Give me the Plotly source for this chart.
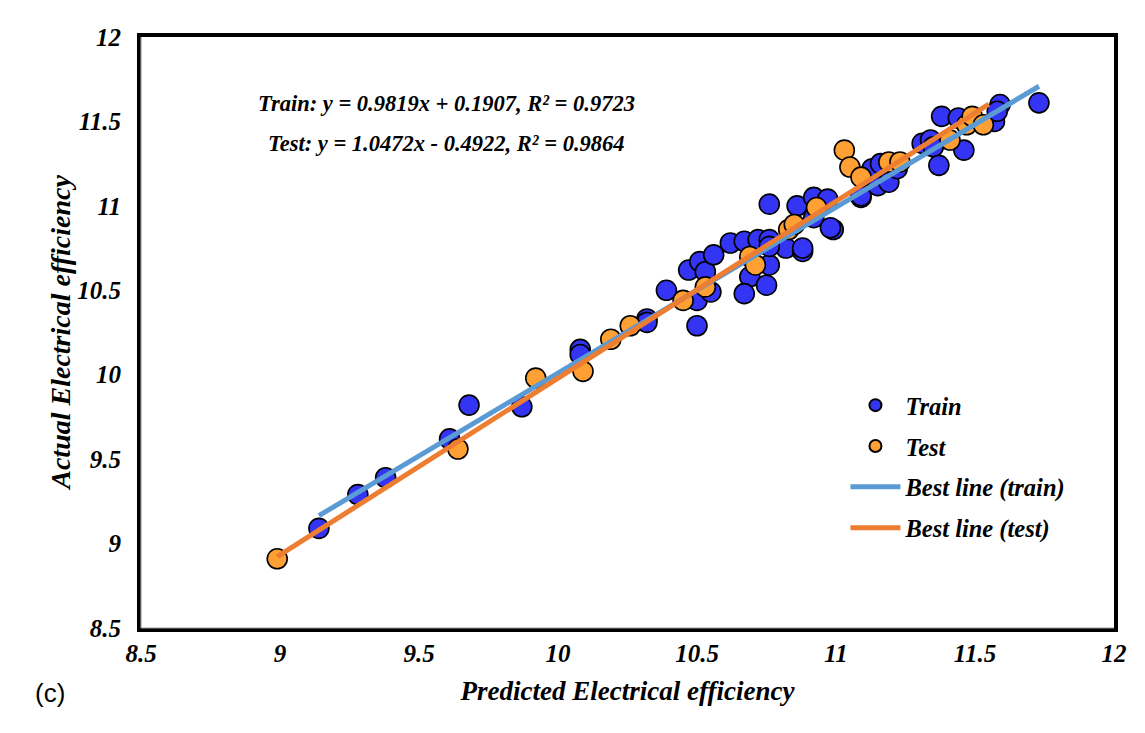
import plotly.graph_objects as go
import numpy as np

train_x = [9.14, 9.28, 9.38, 9.61, 9.68, 9.87, 10.08, 10.08, 10.32, 10.39, 10.32,
           10.50, 10.50, 10.47, 10.51, 10.53, 10.55, 10.56, 10.62, 10.67, 10.72, 10.76,
           10.76, 10.76, 10.69, 10.67, 10.75, 10.82, 10.88, 10.86, 10.92, 10.97, 10.99,
           10.92, 11.09, 11.09, 11.15, 11.19, 11.13, 11.16, 11.22, 11.31, 11.34, 11.35,
           11.37, 11.38, 11.44, 11.46, 11.57, 11.59, 11.58, 11.73, 10.76, 10.88, 10.98]
train_y = [9.09, 9.29, 9.39, 9.62, 9.82, 9.81, 10.15, 10.12, 10.33, 10.50, 10.31,
           10.44, 10.29, 10.62, 10.67, 10.61, 10.49, 10.71, 10.78, 10.79, 10.80, 10.80,
           11.01, 10.65, 10.58, 10.48, 10.53, 10.75, 10.73, 11.00, 11.05, 11.04, 10.86,
           10.93, 11.05, 11.06, 11.12, 11.14, 11.22, 11.25, 11.22, 11.37, 11.39, 11.35,
           11.24, 11.53, 11.52, 11.33, 11.50, 11.60, 11.56, 11.61, 10.76, 10.75, 10.87]
test_x = [8.99, 9.64, 9.92, 10.09, 10.19, 10.26, 10.45, 10.53, 10.69, 10.71, 10.83,
          10.85, 10.93, 11.03, 11.05, 11.09, 11.19, 11.23, 11.41, 11.47, 11.49, 11.53]
test_y = [8.91, 9.56, 9.98, 10.02, 10.21, 10.29, 10.44, 10.52, 10.70, 10.65, 10.86,
          10.89, 10.99, 11.33, 11.23, 11.17, 11.26, 11.26, 11.39, 11.48, 11.53, 11.48]

train_coef = (0.9819, 0.1907)
test_coef = (1.0472, -0.4922)
tick_vals = [8.5, 9, 9.5, 10, 10.5, 11, 11.5, 12]
tick_text = ["8.5", "9", "9.5", "10", "10.5", "11", "11.5", "12"]

FONT = "Liberation Serif"
bi = dict(family=FONT, color="black", weight="bold", style="italic")

fig = go.Figure()
fig.add_trace(go.Scatter(x=train_x, y=train_y, mode="markers", name="Train",
                         legendgroup="a",
                         marker=dict(size=20, color="#3434F5",
                                     line=dict(color="black", width=1.6))))
fig.add_trace(go.Scatter(x=test_x, y=test_y, mode="markers", name="Test",
                         legendgroup="b",
                         marker=dict(size=20, color="#FFA035",
                                     line=dict(color="black", width=1.6))))
lx = np.array([min(train_x), max(train_x)])
fig.add_trace(go.Scatter(x=lx, y=train_coef[0] * lx + train_coef[1], mode="lines",
                         name="Best line (train)", legendgroup="c",
                         line=dict(color="#5B9BD5", width=5)))
tx = np.array([min(test_x), max(test_x) + 0.02])
fig.add_trace(go.Scatter(x=tx, y=test_coef[0] * tx + test_coef[1], mode="lines",
                         name="Best line (test)", legendgroup="d",
                         line=dict(color="#ED7D31", width=5)))

axis_common = dict(range=[8.5, 12], tickvals=tick_vals, ticktext=tick_text,
                   showgrid=False, zeroline=False, showline=True, mirror=True,
                   linecolor="black", linewidth=4, ticks="",
                   tickfont=dict(size=25, **bi))

fig.update_xaxes(**axis_common, ticklabelstandoff=0,
                 title=dict(text="Predicted Electrical efficiency",
                            font=dict(size=27, **bi), standoff=16))
fig.update_yaxes(**axis_common, ticklabelstandoff=11)

fig.add_annotation(xref="paper", yref="paper", x=-0.083, y=0.5,
                   text="Actual Electrical efficiency", textangle=-90,
                   showarrow=False, font=dict(size=28, **bi),
                   xanchor="center", yanchor="middle")
fig.add_annotation(xref="paper", yref="paper", x=0.3135, y=0.888,
                   text="Train: y = 0.9819x + 0.1907, R² = 0.9723",
                   showarrow=False, font=dict(size=22.5, **bi),
                   xanchor="center", yanchor="middle")
fig.add_annotation(xref="paper", yref="paper", x=0.3135, y=0.8206,
                   text="Test: y = 1.0472x - 0.4922, R² = 0.9864",
                   showarrow=False, font=dict(size=22.5, **bi),
                   xanchor="center", yanchor="middle")
fig.add_annotation(xref="paper", yref="paper", x=-0.1105, y=-0.11,
                   text="(c)", showarrow=False, xanchor="left", yanchor="middle",
                   font=dict(size=26, family="Liberation Sans", color="black"))

fig.update_layout(
    width=1145, height=733,
    margin=dict(l=133, r=39, t=29, b=113),
    paper_bgcolor="white", plot_bgcolor="white",
    showlegend=True,
    legend=dict(x=0.724, y=0.415, xanchor="left", yanchor="top",
                font=dict(size=24.5, **bi), bgcolor="rgba(0,0,0,0)",
                itemsizing="constant", tracegroupgap=6, traceorder="grouped",
                itemwidth=50),
    shapes=[
        dict(type="rect", xref="paper", yref="paper", x0=-0.1377, x1=1.0247,
             y0=-0.2, y1=1.0508, line=dict(color="#d8d8d8", width=1.5), layer="below"),
        dict(type="line", xref="paper", yref="paper", x0=0, x1=0, y0=0, y1=1,
             line=dict(color="#9a9a9a", width=1.2), layer="above"),
        dict(type="line", xref="paper", yref="paper", x0=0, x1=1, y0=0, y1=0,
             line=dict(color="#9a9a9a", width=1.2), layer="above"),
    ],
)

fig.write_html("out.html")
